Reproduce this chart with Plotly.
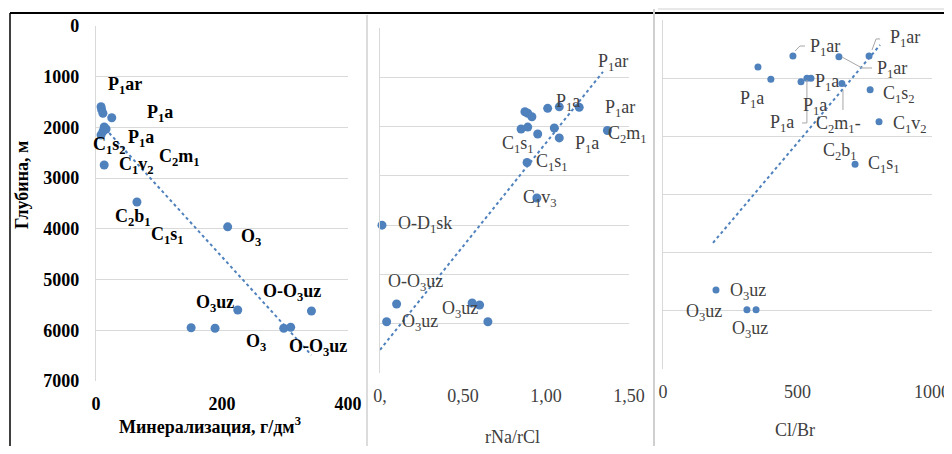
import plotly.graph_objects as go

# page body has an 8px margin: figure is sized so that page pixels map onto the 952x454 window
OX, OY = 8, 8
W, H = 944, 438

# ---------------- data ----------------
# Panel 1: mineralization (g/dm3) vs depth (m)
mineral_x = [8, 9, 11, 25, 13, 16, 11, 8, 13, 65, 209, 225, 342, 151, 189, 298, 309]
mineral_depth = [1590, 1650, 1720, 1810, 1990, 2030, 2080, 2150, 2740, 3470, 3960, 5600, 5620, 5950, 5960, 5960, 5940]
mineral_trend_x = [21, 342]
mineral_trend_y = [2110, 6490]

# Panel 2: rNa/rCl vs depth
rna_x = [0.873, 0.89, 0.915, 1.01, 1.08, 1.20, 0.85, 0.89, 0.95, 1.05, 1.08, 1.37, 0.886, 0.945,
         0.012, 0.10, 0.04, 0.555, 0.60, 0.65]
rna_depth = [1700, 1730, 1800, 1630, 1600, 1610, 2050, 2010, 2150, 2030, 2230, 2080, 2730, 3450,
             4000, 5600, 5960, 5580, 5620, 5960]
rna_trend_x = [0.0, 1.343]
rna_trend_y = [6530, 890]

# Panel 3: Cl/Br vs depth
clbr_x = [483, 654, 766, 353, 401, 513, 535, 550, 665, 770, 803, 714, 197, 312, 346]
clbr_depth = [1620, 1630, 1620, 1810, 2020, 2060, 2000, 2000, 2090, 2200, 2750, 3480, 5640, 5980, 5980]
clbr_trend_x = [186, 807]
clbr_trend_y = [4830, 1430]

depth_ticks = [0, 1000, 2000, 3000, 4000, 5000, 6000, 7000]
mineral_ticks = [0, 200, 400]
rna_ticks = [0, 0.5, 1.0, 1.5]
rna_ticktext = ["0,", "0,50", "1,00", "1,50"]
clbr_ticks = [0, 500, 1000]
clbr_grid = [1000, 2000, 3000, 4000, 5000, 6000, 7000]

# labels (text, x, y) in data units
labels1 = [("P<sub>1</sub>ar", 46, 1164), ("P<sub>1</sub>a", 102, 1716), ("C<sub>1</sub>s<sub>2</sub>", 22, 2347),
           ("P<sub>1</sub>a", 71, 2209), ("C<sub>2</sub>m<sub>1</sub>", 133, 2584), ("C<sub>1</sub>v<sub>2</sub>", 65, 2742),
           ("C<sub>2</sub>b<sub>1</sub>", 59, 3767), ("C<sub>1</sub>s<sub>1</sub>", 114, 4122), ("O<sub>3</sub>", 246, 4162),
           ("O-O<sub>3</sub>uz", 311, 5247), ("O<sub>3</sub>uz", 189, 5464), ("O<sub>3</sub>", 254, 6233),
           ("O-O<sub>3</sub>uz", 352, 6331)]
labels2 = [("P<sub>1</sub>ar", 1.404, 710), ("P<sub>1</sub>a", 1.133, 1521), ("P<sub>1</sub>ar", 1.446, 1643),
           ("C<sub>2</sub>m<sub>1</sub>", 1.488, 2170), ("C<sub>1</sub>s<sub>1</sub>", 0.831, 2373), ("P<sub>1</sub>a", 1.247, 2373),
           ("C<sub>1</sub>s<sub>1</sub>", 1.036, 2738), ("C<sub>1</sub>v<sub>3</sub>", 0.964, 3469),
           ("O-D<sub>1</sub>sk", 0.271, 3996), ("O-O<sub>3</sub>uz", 0.211, 5172), ("O<sub>3</sub>uz", 0.241, 5984),
           ("O<sub>3</sub>uz", 0.482, 5720)]
labels3 = [("P<sub>1</sub>ar", 602, 1481), ("P<sub>1</sub>ar", 900, 1326), ("P<sub>1</sub>ar", 851, 1859),
           ("P<sub>1</sub>a", 331, 2375), ("P<sub>1</sub>a", 610, 2082), ("P<sub>1</sub>a", 565, 2495),
           ("P<sub>1</sub>a", 442, 2787), ("C<sub>2</sub>m<sub>1</sub>-", 651, 2804), ("C<sub>2</sub>b<sub>1</sub>", 658, 3268),
           ("C<sub>1</sub>s<sub>2</sub>", 877, 2289), ("C<sub>1</sub>v<sub>2</sub>", 918, 2804), ("C<sub>1</sub>s<sub>1</sub>", 822, 3491),
           ("O<sub>3</sub>uz", 316, 5674), ("O<sub>3</sub>uz", 152, 6034), ("O<sub>3</sub>uz", 323, 6326)]
leaders3 = [([491, 509, 528], [1533, 1447, 1447]),
            ([777, 792, 807], [1515, 1326, 1326]),
            ([665, 740, 777], [1636, 1825, 1825]),
            ([517, 535, 535], [2770, 2770, 2031]),
            ([669, 669], [2203, 2546])]

BLUE = "#4f81bd"
GRID = "#d9d9d9"
FONT = "Liberation Serif"
GREY_TXT = "#404040"

fig = go.Figure()

def add_panel(xs, ys, tx, ty, xa, ya, msize):
    fig.add_trace(go.Scatter(x=tx, y=ty, mode="lines", xaxis=xa, yaxis=ya,
                             line=dict(color=BLUE, width=2, dash="dot"), hoverinfo="skip"))
    fig.add_trace(go.Scatter(x=xs, y=ys, mode="markers", xaxis=xa, yaxis=ya,
                             marker=dict(color=BLUE, size=msize), cliponaxis=False))

add_panel(mineral_x, mineral_depth, mineral_trend_x, mineral_trend_y, "x", "y", 9)
add_panel(rna_x, rna_depth, rna_trend_x, rna_trend_y, "x2", "y2", 9)
add_panel(clbr_x, clbr_depth, clbr_trend_x, clbr_trend_y, "x3", "y3", 7)

for lx, ly in leaders3:
    fig.add_trace(go.Scatter(x=lx, y=ly, mode="lines", xaxis="x3", yaxis="y3",
                             line=dict(color="#a6a6a6", width=1), hoverinfo="skip"))

def px(x):
    return (x - OX) / W

def py(y):
    return 1 - (y - OY) / H

annotations = []
for t, x, y in labels1:
    annotations.append(dict(text="<b>" + t + "</b>", x=x, y=y, xref="x", yref="y", showarrow=False,
                            xanchor="center", yanchor="middle",
                            font=dict(family=FONT, size=18, color="black")))
for t, x, y in labels2:
    annotations.append(dict(text=t, x=x, y=y, xref="x2", yref="y2", showarrow=False,
                            xanchor="center", yanchor="middle",
                            font=dict(family=FONT, size=18, color=GREY_TXT)))
for t, x, y in labels3:
    annotations.append(dict(text=t, x=x, y=y, xref="x3", yref="y3", showarrow=False,
                            xanchor="center", yanchor="middle",
                            font=dict(family=FONT, size=18, color=GREY_TXT)))

annotations += [
    dict(text="<b>Глубина, м</b>", x=px(22), y=py(185), xref="paper", yref="paper", showarrow=False,
         xanchor="center", yanchor="middle",
         textangle=-90, font=dict(family=FONT, size=18, color="black")),
    dict(text="<b>Минерализация, г/дм<sup>3</sup></b>", x=px(210), y=py(425), xref="paper", yref="paper",
         xanchor="center", yanchor="middle",
         showarrow=False, font=dict(family=FONT, size=18, color="black")),
    dict(text="rNa/rCl", x=px(512), y=py(437), xref="paper", yref="paper", showarrow=False,
         xanchor="center", yanchor="middle",
         font=dict(family=FONT, size=18, color=GREY_TXT)),
    dict(text="Cl/Br", x=px(795), y=py(430), xref="paper", yref="paper", showarrow=False,
         xanchor="center", yanchor="middle",
         font=dict(family=FONT, size=18, color=GREY_TXT)),
]

shapes = [
    dict(type="line", xref="paper", yref="paper", x0=px(10), x1=1, y0=py(13), y1=py(13),
         line=dict(color="black", width=2)),
    dict(type="line", xref="paper", yref="paper", x0=px(10), x1=px(10), y0=py(13), y1=0,
         line=dict(color="black", width=1.5)),
    dict(type="line", xref="paper", yref="paper", x0=px(367), x1=px(367), y0=py(15), y1=0,
         line=dict(color="#d0d0d0", width=1.5)),
    dict(type="line", xref="paper", yref="paper", x0=px(654), x1=px(654), y0=py(9), y1=0,
         line=dict(color="#d0d0d0", width=2)),
    dict(type="line", xref="paper", yref="paper", x0=px(658), x1=1, y0=py(9), y1=py(9),
         line=dict(color="#e0e0e0", width=1.5)),
]

bold_tick = dict(family=FONT, size=18, color="black")
reg_tick = dict(family=FONT, size=18, color=GREY_TXT)

fig.update_layout(
    template="none",
    width=W, height=H, margin=dict(l=0, r=0, t=0, b=0, autoexpand=False),
    paper_bgcolor="white", plot_bgcolor="white", showlegend=False,
    annotations=annotations, shapes=shapes,
    xaxis=dict(domain=[px(96), px(348)], range=[0, 400], tickvals=mineral_ticks,
               ticktext=["<b>%d</b>" % v for v in mineral_ticks], tickfont=bold_tick,
               showgrid=False, zeroline=False, showline=False, ticks="", ticklabelstandoff=10,
               anchor="y", automargin=False),
    yaxis=dict(domain=[py(381), py(26)], range=[7000, 0], tickvals=depth_ticks,
               ticktext=["<b>%d</b>" % v for v in depth_ticks], tickfont=bold_tick,
               showgrid=True, gridcolor=GRID, gridwidth=1.3, zeroline=False,
               showline=True, linecolor=GRID, linewidth=1.3, ticks="", ticklabelstandoff=12,
               anchor="x", automargin=False),
    xaxis2=dict(domain=[px(380), px(629)], range=[0, 1.5], tickvals=rna_ticks, ticktext=rna_ticktext,
                tickfont=reg_tick, showgrid=False, zeroline=False, showline=False, ticks="",
                ticklabelstandoff=10, anchor="y2", automargin=False),
    yaxis2=dict(domain=[py(373), py(28)], range=[7000, 0], tickvals=depth_ticks, showticklabels=False,
                showgrid=True, gridcolor=GRID, gridwidth=1.3, zeroline=False,
                showline=True, linecolor=GRID, linewidth=1.3, ticks="", anchor="x2", automargin=False),
    xaxis3=dict(domain=[px(663), px(932)], range=[0, 1000], tickvals=clbr_ticks,
                tickfont=reg_tick, showgrid=False, zeroline=False, showline=False, ticks="",
                ticklabelstandoff=10, anchor="y3", automargin=False),
    yaxis3=dict(domain=[py(369), py(20)], range=[7000, 1000], tickvals=clbr_grid, showticklabels=False,
                showgrid=True, gridcolor=GRID, gridwidth=1.3, zeroline=False,
                showline=True, linecolor=GRID, linewidth=1.3, ticks="", anchor="x3", automargin=False),
)

fig.write_html("out.html")
